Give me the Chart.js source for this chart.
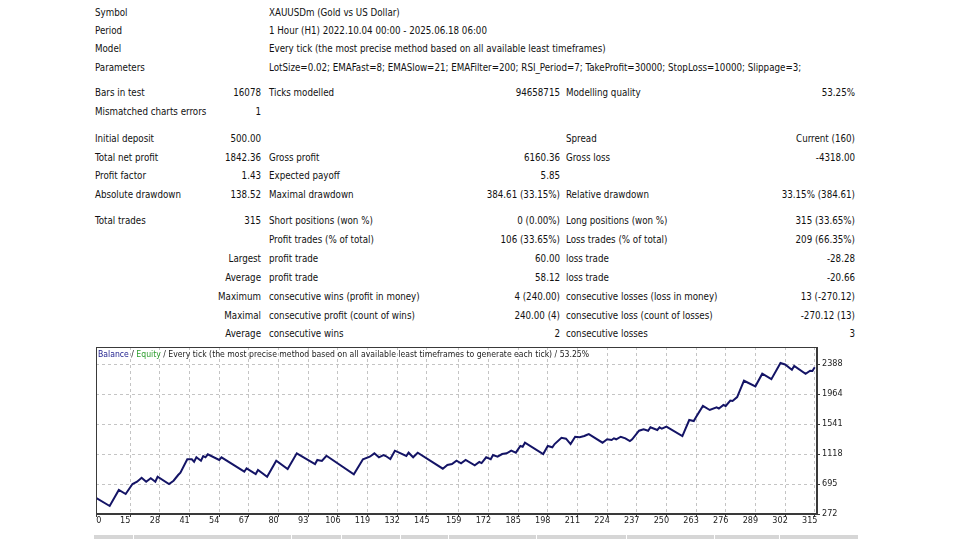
<!DOCTYPE html>
<html>
<head>
<meta charset="utf-8">
<script src="https://cdn.jsdelivr.net/npm/chart.js@4.4.1/dist/chart.umd.min.js"></script>
<style>
  html, body { margin: 0; padding: 0; background: #fff; }
  #page { position: relative; width: 960px; height: 539px; overflow: hidden;
          font-family: "DejaVu Sans Condensed", "DejaVu Sans", sans-serif; font-stretch: condensed;
          font-size: 9.7px; color: #111; }
  .r { position: absolute; left: 0; width: 960px; height: 14px; line-height: 14px; white-space: nowrap; }
  .r span { position: absolute; top: 0; }
  .a { left: 95px; }
  .b { right: 699px; text-align: right; }
  .c { left: 269px; }
  .d { right: 400px; text-align: right; }
  .e { left: 566px; }
  .f { right: 105px; text-align: right; }
  #graph { position: absolute; left: 86px; top: 343px; }
  #title { position: absolute; left: 98px; top: 348px; font-size: 8.6px; line-height: 12px;
           color: #222; white-space: nowrap; }
  #title .bal { color: #1c1c8c; }
  #title .eq { color: #2e9e2e; }
  .tab { position: absolute; top: 535px; height: 4px; background: #d6d6d6; }
</style>
</head>
<body>
<div id="page">
  <div class="r" style="top:6px"><span class="a">Symbol</span><span class="c">XAUUSDm (Gold vs US Dollar)</span></div>
  <div class="r" style="top:24px"><span class="a">Period</span><span class="c">1 Hour (H1) 2022.10.04 00:00 - 2025.06.18 06:00</span></div>
  <div class="r" style="top:42px"><span class="a">Model</span><span class="c">Every tick (the most precise method based on all available least timeframes)</span></div>
  <div class="r" style="top:61px"><span class="a">Parameters</span><span class="c">LotSize=0.02; EMAFast=8; EMASlow=21; EMAFilter=200; RSI_Period=7; TakeProfit=30000; StopLoss=10000; Slippage=3;</span></div>

  <div class="r" style="top:86px"><span class="a">Bars in test</span><span class="b">16078</span><span class="c">Ticks modelled</span><span class="d">94658715</span><span class="e">Modelling quality</span><span class="f">53.25%</span></div>
  <div class="r" style="top:105px"><span class="a">Mismatched charts errors</span><span class="b">1</span></div>

  <div class="r" style="top:132px"><span class="a">Initial deposit</span><span class="b">500.00</span><span class="e">Spread</span><span class="f">Current (160)</span></div>
  <div class="r" style="top:151px"><span class="a">Total net profit</span><span class="b">1842.36</span><span class="c">Gross profit</span><span class="d">6160.36</span><span class="e">Gross loss</span><span class="f">-4318.00</span></div>
  <div class="r" style="top:169px"><span class="a">Profit factor</span><span class="b">1.43</span><span class="c">Expected payoff</span><span class="d">5.85</span></div>
  <div class="r" style="top:188px"><span class="a">Absolute drawdown</span><span class="b">138.52</span><span class="c">Maximal drawdown</span><span class="d">384.61 (33.15%)</span><span class="e">Relative drawdown</span><span class="f">33.15% (384.61)</span></div>

  <div class="r" style="top:214px"><span class="a">Total trades</span><span class="b">315</span><span class="c">Short positions (won %)</span><span class="d">0 (0.00%)</span><span class="e">Long positions (won %)</span><span class="f">315 (33.65%)</span></div>
  <div class="r" style="top:233px"><span class="c">Profit trades (% of total)</span><span class="d">106 (33.65%)</span><span class="e">Loss trades (% of total)</span><span class="f">209 (66.35%)</span></div>
  <div class="r" style="top:252px"><span class="b">Largest</span><span class="c">profit trade</span><span class="d">60.00</span><span class="e">loss trade</span><span class="f">-28.28</span></div>
  <div class="r" style="top:271px"><span class="b">Average</span><span class="c">profit trade</span><span class="d">58.12</span><span class="e">loss trade</span><span class="f">-20.66</span></div>
  <div class="r" style="top:290px"><span class="b">Maximum</span><span class="c">consecutive wins (profit in money)</span><span class="d">4 (240.00)</span><span class="e">consecutive losses (loss in money)</span><span class="f">13 (-270.12)</span></div>
  <div class="r" style="top:309px"><span class="b">Maximal</span><span class="c">consecutive profit (count of wins)</span><span class="d">240.00 (4)</span><span class="e">consecutive loss (count of losses)</span><span class="f">-270.12 (13)</span></div>
  <div class="r" style="top:327px"><span class="b">Average</span><span class="c">consecutive wins</span><span class="d">2</span><span class="e">consecutive losses</span><span class="f">3</span></div>

  <canvas id="graph" width="772" height="185"></canvas>
  <div id="title"><span class="bal">Balance</span> / <span class="eq">Equity</span> / Every tick (the most precise method based on all available least timeframes to generate each tick) / 53.25%</div>
</div>

<script>
// balance curve (trade number -> balance)
const tradeNo = [0, 6, 10, 13, 16, 18, 20, 22, 24, 26,
  27, 32, 34, 36, 37, 40, 42, 43, 44, 46,
  47, 48, 49, 54, 55, 65, 66, 70, 71, 75,
  79, 84, 88, 96, 97, 99, 101, 113, 117, 120,
  122, 124, 126, 127, 129, 131, 136, 137, 139, 141,
  152, 154, 156, 158, 160, 162, 166, 168, 169, 171,
  173, 174, 176, 178, 180, 182, 184, 186, 187, 188,
  196, 198, 200, 201, 204, 206, 208, 210, 212, 214,
  215, 216, 222, 224, 226, 227, 228, 230, 232, 234,
  235, 238, 240, 242, 243, 246, 247, 248, 250, 257,
  260, 262, 263, 266, 269, 272, 273, 275, 276, 278,
  279, 281, 282, 284, 289, 292, 296, 300, 302, 305,
  306, 311, 313, 314, 315];

const balance = [500, 385, 611, 554, 695, 728, 784, 728, 776, 728,
  798, 695, 742, 822, 855, 1044, 1044, 1010, 1072, 1024,
  1090, 1072, 1114, 1034, 1072, 869, 917, 836, 893, 798,
  1024, 907, 1128, 977, 1034, 1020, 1094, 832, 1044, 1080,
  1128, 1072, 1104, 1090, 1048, 1165, 1090, 1137, 1072, 1137,
  911, 963, 977, 1024, 987, 1034, 959, 1006, 991, 1072,
  1044, 1104, 1080, 1118, 1128, 1165, 1137, 1231, 1221, 1278,
  1118, 1231, 1213, 1259, 1348, 1334, 1259, 1362, 1354, 1372,
  1386, 1400, 1278, 1326, 1316, 1340, 1326, 1362, 1340, 1302,
  1326, 1447, 1467, 1447, 1495, 1457, 1495, 1475, 1504, 1372,
  1598, 1584, 1640, 1796, 1739, 1777, 1760, 1810, 1796, 1873,
  1866, 1922, 1997, 2152, 2073, 2251, 2174, 2402, 2381, 2308,
  2360, 2251, 2294, 2290, 2342];

const xTicks = [0, 15, 28, 41, 54, 67, 80, 93, 106, 119, 132, 145, 159,
  172, 185, 198, 211, 224, 237, 250, 263, 276, 289, 302, 315];
const yTicks = [272, 695, 1118, 1541, 1964, 2388];

const FONT = "DejaVu Sans Condensed, DejaVu Sans, sans-serif";
const GRID = "#c4c4c4";
const FRAME = "#3a3a3a";

// bottom tab strip, cut off at the edge of the screenshot
const tabEdges = [93, 133, 291, 341, 400, 448, 536, 626, 714, 779, 858];
const page = document.getElementById("page");
for (let i = 0; i < tabEdges.length - 1; i++) {
  const t = document.createElement("div");
  t.className = "tab";
  t.style.left = (tabEdges[i] + 1) + "px";
  t.style.width = (tabEdges[i + 1] - tabEdges[i] - 1) + "px";
  page.appendChild(t);
}

const framePlugin = {
  id: "frame",
  afterDraw(chart) {
    const { ctx, chartArea: a } = chart;
    ctx.save();
    ctx.strokeStyle = FRAME;
    ctx.lineWidth = 1;
    ctx.strokeRect(Math.round(a.left) + 0.5, Math.round(a.top) + 0.5,
      Math.round(a.right - a.left) - 1, Math.round(a.bottom - a.top) - 1);
    ctx.restore();
  }
};

new Chart(document.getElementById("graph"), {
  type: "line",
  data: {
    datasets: [{
      label: "Balance",
      data: tradeNo.map((n, i) => ({ x: n, y: balance[i] })),
      borderColor: "#141466",
      borderWidth: 2,
      pointRadius: 0,
      tension: 0,
      fill: false
    }]
  },
  plugins: [framePlugin],
  options: {
    responsive: false,
    animation: false,
    layout: { padding: { left: 10, top: 4, right: 0, bottom: 0 } },
    plugins: { legend: { display: false }, tooltip: { enabled: false } },
    scales: {
      x: {
        type: "linear",
        min: 0,
        max: 316,
        afterBuildTicks: (s) => { s.ticks = xTicks.map((v) => ({ value: v })); },
        afterFit: (s) => { s.height = 14; s.paddingLeft = 0; s.paddingRight = 0; },
        ticks: {
          autoSkip: false, maxRotation: 0, padding: -1, labelOffset: -5,
          color: "#222", font: { family: FONT, size: 9, lineHeight: 1 },
          // the first label sits just inside the frame, as in the tester
          callback: (v) => (v === 0 ? "\u2007\u2007\u20070" : v)
        },
        grid: { color: GRID, tickLength: 3, tickColor: FRAME },
        border: { color: FRAME, dash: [3, 3] }
      },
      y: {
        type: "linear",
        position: "right",
        min: 272,
        max: 2628,
        afterBuildTicks: (s) => { s.ticks = yTicks.map((v) => ({ value: v })); },
        afterFit: (s) => { s.width = 41; s.paddingTop = 0; s.paddingBottom = 0; },
        ticks: {
          padding: 2, color: "#222",
          font: { family: FONT, size: 9 },
          callback: (v) => v
        },
        grid: { color: GRID, tickLength: 3, tickColor: FRAME },
        border: { color: FRAME, dash: [3, 3] }
      }
    }
  }
});
</script>
</body>
</html>
